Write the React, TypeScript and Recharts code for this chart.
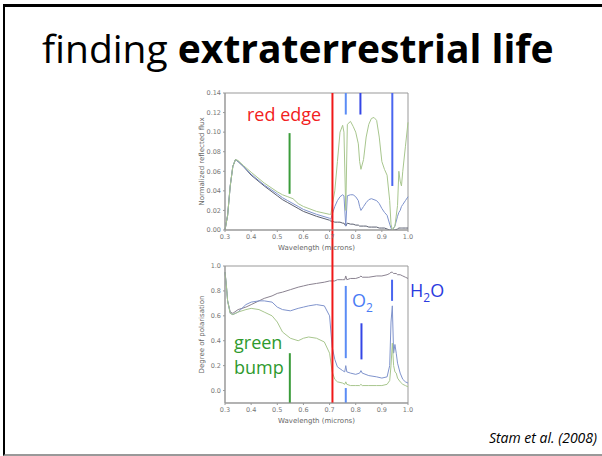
import React from "react";
import {
  LineChart,
  Line,
  XAxis,
  YAxis,
  ReferenceLine,
  ReferenceArea,
} from "recharts";

// wavelength grid (microns) for the reflected flux panel
const wlFlux = [
  0.3, 0.31, 0.32, 0.33, 0.34, 0.35, 0.37, 0.4, 0.45, 0.5, 0.52, 0.54, 0.56,
  0.58, 0.6, 0.65, 0.7, 0.705, 0.71, 0.72, 0.73, 0.74, 0.75, 0.755, 0.762,
  0.768, 0.78, 0.79, 0.8, 0.81, 0.815, 0.82, 0.83, 0.84, 0.85, 0.86, 0.87,
  0.88, 0.89, 0.9, 0.91, 0.92, 0.93, 0.935, 0.94, 0.95, 0.96, 0.965, 0.97,
  0.975, 0.98, 0.99, 1.0,
];
const fluxGray = [
  0, 0.015, 0.045, 0.065, 0.072, 0.07, 0.065, 0.056, 0.045, 0.035, 0.031,
  0.028, 0.025, 0.022, 0.019, 0.014, 0.01, 0.009, 0.009, 0.008, 0.008, 0.008,
  0.007, 0.007, 0.004, 0.007, 0.006, 0.006, 0.005, 0.005, 0.004, 0.004, 0.004,
  0.004, 0.003, 0.003, 0.003, 0.003, 0.002, 0.002, 0.002, 0.001, 0, 0, 0, 0,
  0.001, 0.002, 0.002, 0.002, 0.002, 0.002, 0.002,
];
const fluxBlue = [
  0, 0.015, 0.045, 0.065, 0.072, 0.07, 0.065, 0.057, 0.046, 0.037, 0.033, 0.03,
  0.027, 0.024, 0.021, 0.016, 0.012, 0.011, 0.016, 0.024, 0.03, 0.034, 0.036,
  0.035, 0.004, 0.035, 0.036, 0.036, 0.034, 0.03, 0.024, 0.02, 0.024, 0.028,
  0.031, 0.032, 0.031, 0.03, 0.027, 0.022, 0.018, 0.015, 0.006, 0.002, 0,
  0.004, 0.014, 0.018, 0.02, 0.024, 0.026, 0.03, 0.034,
];
const fluxGreen = [
  0, 0.015, 0.045, 0.065, 0.072, 0.071, 0.066, 0.059, 0.048, 0.039, 0.036,
  0.034, 0.032, 0.027, 0.024, 0.019, 0.016, 0.016, 0.025, 0.04, 0.07, 0.1,
  0.107, 0.1, 0.02, 0.108, 0.111, 0.106, 0.1, 0.088, 0.07, 0.062, 0.072, 0.095,
  0.108, 0.114, 0.115, 0.112, 0.095, 0.07, 0.062, 0.056, 0.03, 0.006, 0, 0.004,
  0.025, 0.06, 0.05, 0.045, 0.06, 0.085, 0.11,
];

// wavelength grid for the polarisation panel
const wlPol = [
  0.3, 0.305, 0.31, 0.32, 0.33, 0.35, 0.38, 0.4, 0.43, 0.45, 0.48, 0.5, 0.52,
  0.55, 0.58, 0.6, 0.62, 0.65, 0.68, 0.7, 0.71, 0.72, 0.73, 0.75, 0.758, 0.762,
  0.766, 0.78, 0.8, 0.815, 0.82, 0.825, 0.85, 0.88, 0.9, 0.92, 0.93, 0.935,
  0.94, 0.945, 0.95, 0.955, 0.96, 0.97, 0.98, 0.99, 1.0,
];
const polGray = [
  0.95, 0.85, 0.72, 0.63, 0.62, 0.65, 0.67, 0.69, 0.72, 0.74, 0.76, 0.78, 0.79,
  0.81, 0.83, 0.84, 0.85, 0.86, 0.87, 0.88, 0.88, 0.88, 0.89, 0.89, 0.89, 0.92,
  0.89, 0.9, 0.9, 0.91, 0.92, 0.91, 0.91, 0.92, 0.92, 0.93, 0.94, 0.95, 0.95,
  0.94, 0.94, 0.94, 0.93, 0.93, 0.92, 0.91, 0.9,
];
const polBlue = [
  0.95, 0.85, 0.72, 0.62, 0.61, 0.63, 0.69, 0.71, 0.72, 0.72, 0.71, 0.67, 0.65,
  0.64, 0.66, 0.67, 0.68, 0.69, 0.68, 0.6, 0.35, 0.25, 0.19, 0.16, 0.15, 0.2,
  0.15, 0.14, 0.13, 0.14, 0.16, 0.14, 0.12, 0.11, 0.1, 0.11, 0.2, 0.55, 0.68,
  0.3, 0.37, 0.3, 0.22, 0.14, 0.09, 0.07, 0.06,
];
const polGreen = [
  0.95, 0.85, 0.72, 0.62, 0.61, 0.63, 0.65, 0.66, 0.65, 0.63, 0.6, 0.55, 0.47,
  0.42, 0.4, 0.42, 0.43, 0.42, 0.39, 0.3, 0.15, 0.09, 0.07, 0.06, 0.05, 0.07,
  0.05, 0.04, 0.04, 0.04, 0.05, 0.04, 0.04, 0.04, 0.04, 0.05, 0.08, 0.2, 0.38,
  0.2, 0.15, 0.14, 0.1, 0.07, 0.05, 0.04, 0.03,
];

const xTicks = [0.3, 0.4, 0.5, 0.6, 0.7, 0.8, 0.9, 1.0];
const fluxTicks = [0, 0.02, 0.04, 0.06, 0.08, 0.1, 0.12, 0.14];
const polTicks = [0, 0.2, 0.4, 0.6, 0.8, 1.0];

// annotation markers: [wavelength, yFrom, yTo, colour]
const redEdge = 0.711;
const fluxMarks: [number, number, number, string][] = [
  [0.762, 0.14, 0.118, "#5b8cf5"],
  [0.818, 0.14, 0.118, "#3446e6"],
  [0.94, 0.14, 0.045, "#4a66f0"],
  [0.547, 0.099, 0.037, "#3a9c3a"],
];
const polMarks: [number, number, number, string][] = [
  [0.762, 0.84, 0.26, "#5b8cf5"],
  [0.762, 0.02, -0.1, "#5b8cf5"],
  [0.822, 0.54, 0.25, "#3446e6"],
  [0.939, 0.89, 0.72, "#4a66f0"],
  [0.548, 0.3, -0.1, "#3a9c3a"],
];

const fluxData = wlFlux.map((wl, i) => ({
  wl,
  gray: fluxGray[i],
  blue: fluxBlue[i],
  green: fluxGreen[i],
}));
const polData = wlPol.map((wl, i) => ({
  wl,
  gray: polGray[i],
  blue: polBlue[i],
  green: polGreen[i],
}));

const tickStyle = { fontSize: 6.5, fill: "#777", fontFamily: "DejaVu Sans" };
const labelStyle = { fontSize: 7, fill: "#666", fontFamily: "DejaVu Sans" };

const Panel = ({
  data,
  yDomain,
  yTicks,
  yLabel,
  marks,
  redSpan,
  colors,
  fmt,
}: any) => (
  <LineChart
    width={230}
    height={173}
    data={data}
    margin={{ top: 8, right: 12, left: 0, bottom: 0 }}
  >
    <XAxis
      dataKey="wl"
      type="number"
      domain={[0.3, 1.0]}
      ticks={xTicks}
      tickFormatter={(v: number) => v.toFixed(1)}
      tick={tickStyle}
      tickSize={2}
      tickMargin={2}
      height={28}
      stroke="#999"
      label={{
        value: "Wavelength (microns)",
        position: "insideBottom",
        offset: 8,
        style: labelStyle,
      }}
    />
    <YAxis
      type="number"
      domain={yDomain}
      ticks={yTicks}
      tickFormatter={fmt}
      tick={tickStyle}
      tickSize={2}
      tickMargin={2}
      width={35}
      stroke="#999"
      allowDataOverflow
      label={{
        value: yLabel,
        angle: -90,
        position: "insideLeft",
        offset: 12,
        style: { ...labelStyle, textAnchor: "middle" },
      }}
    />
    <ReferenceArea
      x1={0.3}
      x2={1.0}
      y1={yDomain[0]}
      y2={yDomain[1]}
      fill="none"
      stroke="#999"
      strokeWidth={1}
    />
    <Line dataKey="gray" stroke={colors[0]} strokeWidth={1} dot={false} isAnimationActive={false} />
    <Line dataKey="blue" stroke={colors[1]} strokeWidth={1} dot={false} isAnimationActive={false} />
    <Line dataKey="green" stroke={colors[2]} strokeWidth={1} dot={false} isAnimationActive={false} />
    {marks.map(([x, a, b, c]: any, i: number) => (
      <ReferenceLine
        key={i}
        segment={[
          { x, y: a },
          { x, y: b },
        ]}
        stroke={c}
        strokeWidth={2}
        ifOverflow="visible"
      />
    ))}
    <ReferenceLine
      segment={[
        { x: redEdge, y: redSpan[0] },
        { x: redEdge, y: redSpan[1] },
      ]}
      stroke="#f01818"
      strokeWidth={2}
      ifOverflow="visible"
    />
  </LineChart>
);

const txt = (extra: React.CSSProperties): React.CSSProperties => ({
  position: "absolute",
  fontFamily: "'Open Sans', sans-serif",
  lineHeight: 1,
  whiteSpace: "nowrap",
  ...extra,
});

export default function App() {
  return (
    <div
      style={{
        position: "absolute",
        left: 0,
        top: 0,
        width: 602,
        height: 456,
        background: "#fff",
        overflow: "hidden",
      }}
    >
      <div
        style={{
          position: "absolute",
          left: 3,
          top: 4,
          width: 620,
          height: 447,
          borderTop: "3px solid #000",
          borderLeft: "2px solid #000",
          borderBottom: "2px solid #999",
        }}
      />
      <div style={txt({ left: 42, top: 28, fontSize: 39, color: "#000" })}>
        finding <b style={{ fontWeight: 700 }}>extraterrestrial life</b>
      </div>

      <div style={{ position: "absolute", left: 190, top: 85 }}>
        <Panel
          data={fluxData}
          yDomain={[0, 0.14]}
          yTicks={fluxTicks}
          yLabel="Normalized reflected flux"
          marks={fluxMarks}
          redSpan={[-0.05, 0.14]}
          colors={["#5a5f70", "#7f93cc", "#a8c68e"]}
          fmt={(v: number) => v.toFixed(2)}
        />
      </div>
      <div style={{ position: "absolute", left: 190, top: 258 }}>
        <Panel
          data={polData}
          yDomain={[-0.1, 1.0]}
          yTicks={polTicks}
          yLabel="Degree of polarisation"
          marks={polMarks}
          redSpan={[-0.1, 1.1]}
          colors={["#8a8290", "#7f93cc", "#a8c68e"]}
          fmt={(v: number) => v.toFixed(1)}
        />
      </div>

      <div style={txt({ left: 247, top: 105, fontSize: 18, color: "#f22020" })}>
        red edge
      </div>
      <div style={txt({ left: 352, top: 291, fontSize: 18, color: "#4a7cf5" })}>
        O<sub style={{ fontSize: 12 }}>2</sub>
      </div>
      <div style={txt({ left: 410, top: 281, fontSize: 18, color: "#2b3be0" })}>
        H<sub style={{ fontSize: 12 }}>2</sub>O
      </div>
      <div style={txt({ left: 234, top: 333, fontSize: 18, color: "#2e9a2e" })}>
        green
      </div>
      <div style={txt({ left: 234, top: 358, fontSize: 18, color: "#2e9a2e" })}>
        bump
      </div>
      <div
        style={txt({
          right: 5,
          top: 431,
          fontSize: 14,
          fontStyle: "italic",
          color: "#000",
        })}
      >
        Stam et al. (2008)
      </div>
    </div>
  );
}
